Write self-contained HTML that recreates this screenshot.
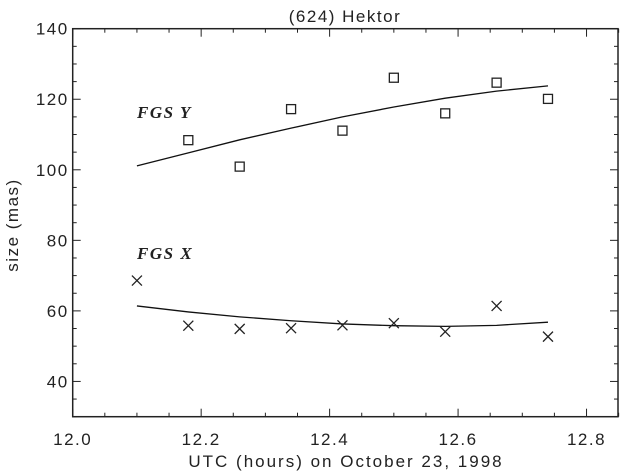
<!DOCTYPE html>
<html><head><meta charset="utf-8"><style>
html,body{margin:0;padding:0;background:#fff;}
svg{display:block;font-family:"Liberation Sans",sans-serif;}
</style></head><body>
<svg id="chart" width="620" height="472" viewBox="0 0 620 472" xmlns="http://www.w3.org/2000/svg">
<text x="345" y="22" font-size="17" text-anchor="middle" letter-spacing="1.5" fill="#222">(624) Hektor</text>
<text x="346" y="467" font-size="17" text-anchor="middle" letter-spacing="2" fill="#222">UTC (hours) on October 23, 1998</text>
<text transform="translate(18,225) rotate(-90)" font-size="17" text-anchor="middle" letter-spacing="1.5" fill="#222">size (mas)</text>
<text x="137" y="118" font-size="17" font-style="italic" font-weight="bold" letter-spacing="1.5" font-family="Liberation Serif, serif" fill="#222">FGS  Y</text>
<text x="137" y="259" font-size="17" font-style="italic" font-weight="bold" letter-spacing="1.5" font-family="Liberation Serif, serif" fill="#222">FGS  X</text>
<g id="axes"></g>
<g id="marks"></g>
</svg>
<script>
const xTicks=[12.0,12.2,12.4,12.6,12.8];
const yTicks=[40,60,80,100,120,140];
const fgsYTimes=[12.18,12.26,12.34,12.42,12.50,12.58,12.66,12.74];
const fgsYValues=[108.4,100.9,117.2,111.1,126.1,116.0,124.7,120.1];
const fgsXTimes=[12.10,12.18,12.26,12.34,12.42,12.50,12.58,12.66,12.74];
const fgsXValues=[68.6,55.8,54.9,55.1,55.9,56.5,54.1,61.4,52.7];
const fitTimes=[12.10,12.18,12.26,12.34,12.42,12.50,12.58,12.66,12.74];
const fitYValues=[101.1,104.8,108.5,111.8,115.0,117.8,120.3,122.3,123.8];
const fitXValues=[61.4,59.7,58.3,57.2,56.3,55.8,55.6,55.9,56.8];

const L=72.7,R=618,T=28.7,B=416.7,X0=12.0,X1=12.849,Y0=30,Y1=140;
const sx=v=>L+(v-X0)/(X1-X0)*(R-L);
const sy=v=>B-(v-Y0)/(Y1-Y0)*(B-T);
const NS="http://www.w3.org/2000/svg";
function mk(tag,attrs,parent){const e=document.createElementNS(NS,tag);for(const k in attrs)e.setAttribute(k,attrs[k]);parent.appendChild(e);return e;}
const ax=document.getElementById('axes'),mg=document.getElementById('marks');
const frame=mk('rect',{x:L,y:T,width:R-L,height:B-T,fill:'none',stroke:'#222','stroke-width':1.5},ax);


for(let v=12.0;v<=12.8501;v+=0.05){
  const major=Math.abs(v*5-Math.round(v*5))<1e-6;
  const len=major?8:4,x=sx(v);
  const t1=mk('line',{x1:x,x2:x,y1:B,y2:B-len,stroke:'#222'},ax);
  
  
  const t2=mk('line',{x1:x,x2:x,y1:T,y2:T+len,stroke:'#222'},ax);
  
  
}
xTicks.forEach(v=>{
  const t=mk('text',{x:sx(v),y:445,'font-size':17,'text-anchor':'middle','letter-spacing':1.5,fill:'#222'},ax);t.textContent=v.toFixed(1);
  
  
});
for(let v=30;v<=140;v+=5){
  const major=v%20===0,len=major?8:4,y=sy(v);
  const t1=mk('line',{x1:L,x2:L+len,y1:y,y2:y,stroke:'#222'},ax);
  
  
  const t2=mk('line',{x1:R,x2:R-len,y1:y,y2:y,stroke:'#222'},ax);
  
  
}
yTicks.forEach(v=>{
  const t=mk('text',{x:L-4,y:sy(v)+6,'font-size':17,'text-anchor':'end','letter-spacing':1.5,fill:'#222'},ax);t.textContent=v;
  
  
});
const fy=mk('polyline',{points:fitTimes.map((t,i)=>sx(t)+','+sy(fitYValues[i])).join(' '),fill:'none',stroke:'#111','stroke-width':1.3},mg);


const fx=mk('polyline',{points:fitTimes.map((t,i)=>sx(t)+','+sy(fitXValues[i])).join(' '),fill:'none',stroke:'#111','stroke-width':1.3},mg);


fgsYTimes.forEach((t,i)=>{
  const x=sx(t),y=sy(fgsYValues[i]);
  const r=mk('rect',{x:x-4.5,y:y-4.5,width:9,height:9,fill:'none',stroke:'#222','stroke-width':1.3},mg);
  
  
});
fgsXTimes.forEach((t,i)=>{
  const x=sx(t),y=sy(fgsXValues[i]);
  const p=mk('path',{d:`M${x-5},${y-5}L${x+5},${y+5}M${x-5},${y+5}L${x+5},${y-5}`,stroke:'#222','stroke-width':1.3,fill:'none'},mg);
  
  
});
</script>
</body></html>
